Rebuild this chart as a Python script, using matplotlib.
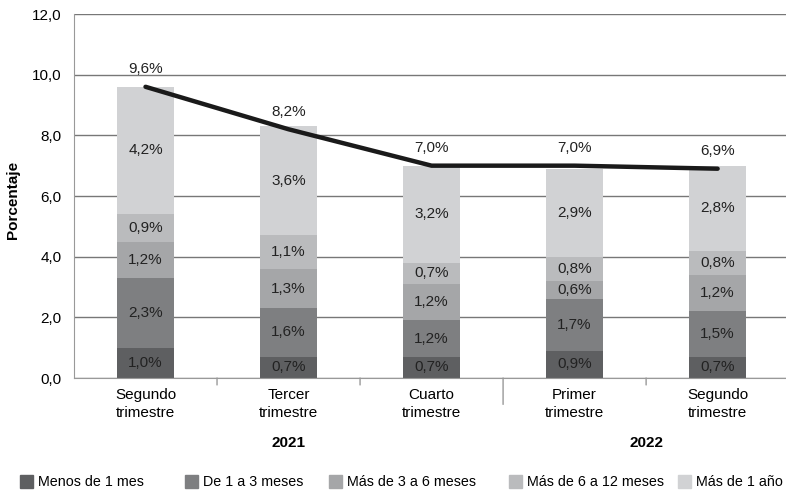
import matplotlib.pyplot as plt
from matplotlib.patches import Rectangle
import numpy as np

plt.rcParams["font.family"] = ["Liberation Sans", "DejaVu Sans"]

quarters = ["Segundo\ntrimestre", "Tercer\ntrimestre", "Cuarto\ntrimestre",
            "Primer\ntrimestre", "Segundo\ntrimestre"]
series_names = ["Menos de 1 mes", "De 1 a 3 meses", "Más de 3 a 6 meses",
                "Más de 6 a 12 meses", "Más de 1 año"]
menos_1_mes = [1.0, 0.7, 0.7, 0.9, 0.7]
de_1_a_3 = [2.3, 1.6, 1.2, 1.7, 1.5]
de_3_a_6 = [1.2, 1.3, 1.2, 0.6, 1.2]
de_6_a_12 = [0.9, 1.1, 0.7, 0.8, 0.8]
mas_1_anio = [4.2, 3.6, 3.2, 2.9, 2.8]
total = [9.6, 8.2, 7.0, 7.0, 6.9]
years = ["2021", "2022"]

colors = ["#5e5f61", "#7e7f81", "#a5a6a8", "#babbbd", "#d1d2d4"]
fs = 11
W, H = 786, 493

fig = plt.figure(figsize=(W / 100, H / 100), dpi=100)
ax = fig.add_axes([74 / W, 1 - 378 / H, 1 - 74 / W + 0.004, 364 / H])

x = np.arange(len(quarters))
bottom = np.zeros(len(quarters))
stack = [menos_1_mes, de_1_a_3, de_3_a_6, de_6_a_12, mas_1_anio]
for vals, name, c in zip(stack, series_names, colors):
    vals = np.array(vals)
    ax.bar(x, vals, 0.4, bottom=bottom, color=c, label=name, zorder=2)
    for xi, b, v in zip(x, bottom, vals):
        ax.text(xi, b + v / 2, f"{v:.1f}%".replace(".", ","), ha="center",
                va="center", fontsize=fs, color="#222222", zorder=4)
    bottom += vals

ax.plot(x, total, color="#1a1a1a", lw=3.2, solid_capstyle="round", zorder=3)
for xi, t in zip(x, total):
    ax.text(xi, t + 0.35, f"{t:.1f}%".replace(".", ","), ha="center",
            va="bottom", fontsize=fs, color="#222222", zorder=4)

ax.set_ylim(0, 12)
ax.set_xlim(-0.5, 4.5)
ax.set_yticks(np.arange(0, 12.1, 2))
ax.set_yticklabels([f"{v:.1f}".replace(".", ",") for v in np.arange(0, 12.1, 2)],
                   fontsize=fs)
ax.yaxis.grid(True, color="#777777", lw=1, zorder=0)
ax.set_axisbelow(True)
ax.tick_params(axis="y", length=0, pad=9)
ax.set_xticks(x)
ax.set_xticklabels(quarters, fontsize=fs, linespacing=1.4)
ax.tick_params(axis="x", length=0, pad=7)
for s in ["top", "right"]:
    ax.spines[s].set_visible(False)
ax.spines["left"].set_color("#999999")
ax.spines["bottom"].set_color("#999999")

# group separators
for b in [0.5, 1.5, 2.5, 3.5]:
    ln = 19 if b == 2.5 else 5
    ax.annotate("", xy=(b, 0), xycoords="data", xytext=(0, -ln),
                textcoords="offset points",
                arrowprops=dict(arrowstyle="-", color="#999999", lw=1,
                                shrinkA=0, shrinkB=0))

ax.text(1, -2.15, years[0], ha="center", va="center", fontsize=fs,
        fontweight="bold")
ax.text(3.5, -2.15, years[1], ha="center", va="center", fontsize=fs,
        fontweight="bold")

ax.set_ylabel("Porcentaje", fontsize=fs, fontweight="bold")
ax.yaxis.set_label_coords(-0.075, 0.49)

# legend, laid out by hand
leg_x = [20, 185, 329, 509, 678]
for lx, name, c in zip(leg_x, series_names, colors):
    fig.patches.append(Rectangle((lx / W, 1 - 488 / H), 13 / W, 13 / H,
                                 transform=fig.transFigure, color=c))
    fig.text((lx + 18) / W, 1 - 481.5 / H, name, fontsize=10.3, va="center",
             ha="left")

fig.savefig("out.png", dpi=100)
